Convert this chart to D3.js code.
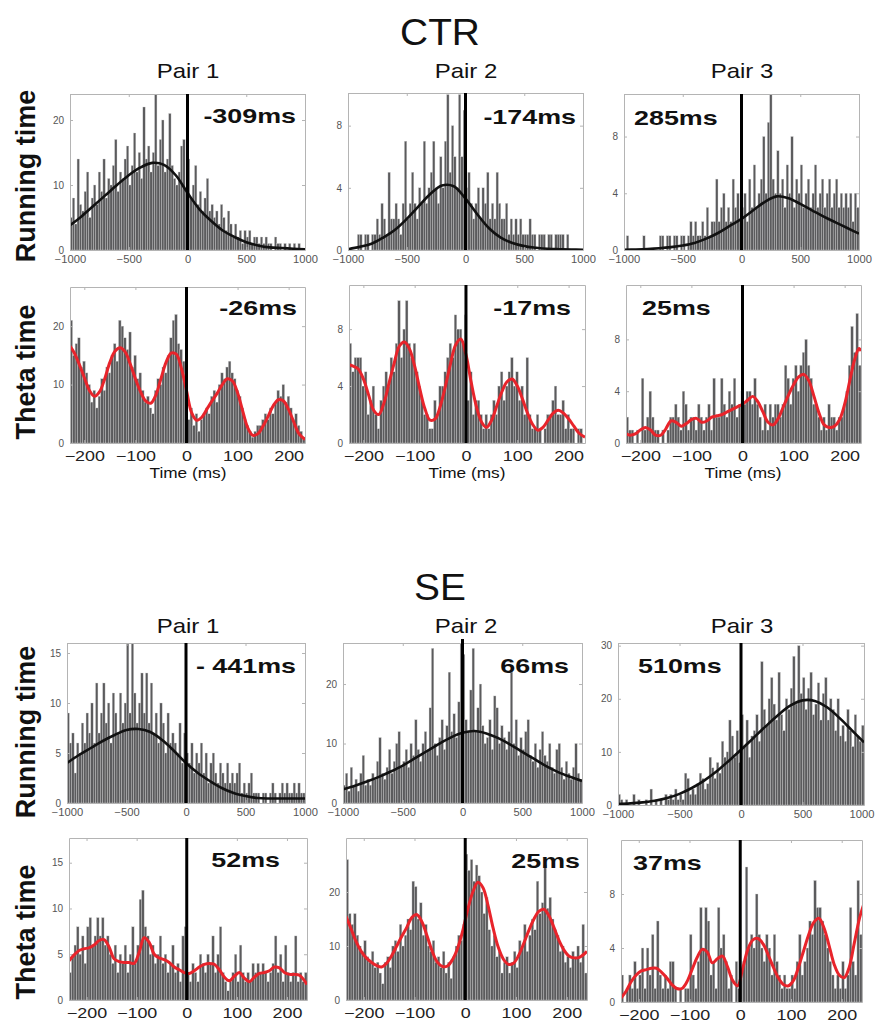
<html>
  <meta charset="utf-8">
  <head>
  <style>
    body {
      margin: 0;
      background: #fff;
    }
    svg text {
      font-family: Arial, "Liberation Sans", Helvetica, sans-serif;
    }
  </style>
  </head>
  <body>
    <div id="fig"></div>

    <script src="https://cdnjs.cloudflare.com/ajax/libs/d3/7.8.5/d3.min.js"></script>
    <script>

    'use strict';

    // ---- data -------------------------------------------------------------
    var groups = ['CTR', 'SE'];
    var pairs = ['Pair 1', 'Pair 2', 'Pair 3'];
    var rows = ['Running time', 'Theta time'];
    var lagLabels = [['-309ms', '-174ms', '285ms'], ['-26ms', '-17ms', '25ms'],
                     ['- 441ms', '66ms', '510ms'], ['52ms', '25ms', '37ms']];

    var runTicks = [-1000, -500, 0, 500, 1000];
    var thetaTicks = [-200, -100, 0, 100, 200];
    var RUN_START = -1000, RUN_BIN = 20;      // running-time histograms, 20 ms bins
    var CTR_TH_START = -228, SE_TH_START = -235, TH_BIN = 5;  // theta-time histograms, 5 ms bins

    // CTR running time (counts per bin)
    var ctrRun1 = [5,8,4,14,7, 6,9,12,5,8, 10,7,12,9,14, 8,11,10,13,17, 9,12,11,14,16,
                   10,13,18,12,15, 11,22,14,16,12, 15,24,13,17,20, 12,14,21,13,11, 10,12,16,17,9,
                   14,8,10,13,7, 9,6,8,11,6, 7,5,6,4,7, 5,3,6,4,2, 4,2,3,1,3,
                   2,3,1,2,2, 1,2,1,2,1, 1,0,2,1,1, 0,1,0,1,0, 1,0,1,0,0];
    var ctrRun2 = [0,0,0,0,1, 1,0,1,1,0, 1,1,2,1,3, 2,1,5,2,2, 3,2,1,3,7,
                   2,3,5,3,2, 4,3,7,3,4, 5,7,4,3,6, 4,7,10,5,8, 6,4,10,6,9,
                   4,5,3,2,3, 4,2,4,3,5, 2,3,2,5,3, 2,2,3,1,2, 1,2,1,2,1,
                   1,1,2,1,1, 0,1,1,1,0, 1,1,0,1,1, 1,1,0,1,0, 0,0,0,0,0];
    var ctrRun3 = [0,1,0,0,0, 0,0,0,1,0, 0,0,0,0,0, 1,1,0,1,1, 0,1,1,0,1,
                   1,0,1,2,1, 2,1,1,2,1, 3,1,2,2,5, 2,3,4,2,3, 2,5,3,4,2,
                   3,4,2,5,3, 6,3,4,5,8, 4,9,11,5,4, 7,4,5,3,6, 4,8,3,5,4,
                   6,3,4,5,3, 4,6,3,4,5, 3,4,5,3,4, 5,3,4,3,4, 3,4,2,4,3];

    // CTR theta time
    var ctrTheta1 = [21,15,17,18,13,14,12,10,7,9, 6,8,11,9,13,12,15,17,14,21,
                     20,18,16,19,13,15,11,12,9,7, 8,6,5,9,11,10,13,12,15,18,
                     21,22,17,16,14,12,4,6,3,5, 2,4,5,6,5,8,9,7,10,12,
                     11,13,14,12,11,9,8,6,4,3, 2,1,2,3,3,4,5,4,6,5,
                     7,9,8,10,7,8,6,4,5,3, 2,1];
    var ctrTheta2 = [7,5,6,6,6,4,5,2,3,4, 2,1,3,4,5,4,6,5,7,10,
                     6,8,10,7,6,7,5,4,3,2, 2,1,1,3,2,4,4,5,6,7,
                     6,9,8,8,7,9,3,5,2,3, 3,2,1,2,1,2,3,2,4,5,
                     3,4,5,6,4,5,3,4,2,6, 2,1,1,2,1,0,1,2,2,3,
                     4,2,2,3,1,2,1,1,0,1, 1,0];
    var ctrTheta3 = [2,1,1,0,1,0,5,1,2,4, 2,1,1,0,1,0,1,2,2,3,
                     2,1,4,3,1,2,2,1,3,2, 1,2,3,1,5,2,2,5,3,2,
                     4,3,5,2,3,4,3,4,4,3, 5,3,2,1,3,1,3,2,3,3,
                     2,3,6,5,3,5,6,4,6,7, 8,6,5,3,3,2,1,2,1,3,
                     2,2,1,2,2,3,4,6,9,7, 10,6];

    // SE running time
    var seRun1 = [9,6,7,3,6, 5,8,6,9,7, 10,6,12,7,9, 12,8,10,6,11, 9,7,11,8,10,
                  16,9,16,11,8, 10,13,9,13,8, 12,7,9,6,10, 8,5,9,6,7, 6,5,8,4,7,
                  5,4,6,3,5, 4,6,3,5,2, 4,5,3,2,4, 3,2,4,2,3, 2,3,4,1,2,
                  1,2,3,1,1, 1,0,1,1,0, 1,2,1,0,1, 2,1,2,1,1, 2,1,2,1,1];
    var seRun2 = [3,5,2,6,3, 4,2,5,8,3, 4,3,5,4,7, 11,5,4,6,9, 5,7,10,12,6,
                  7,9,6,10,8, 14,9,7,10,12, 9,16,26,10,8, 11,14,9,13,22, 12,15,11,17,27,
                  25,14,12,19,26, 12,16,20,13,10, 11,14,9,18,16, 10,13,11,9,12, 22,10,14,8,11,
                  9,12,14,8,7, 10,6,9,12,8, 7,10,6,5,9, 10,6,4,7,5, 4,6,10,5,4];
    var seRun3 = [2,1,0,1,0, 0,2,0,1,0, 0,1,0,3,0, 1,0,1,0,2, 1,2,1,3,1,
                  2,1,6,5,2, 3,2,4,6,5, 3,4,9,7,5, 8,6,12,9,10, 16,13,9,14,8,
                  17,11,16,9,13, 14,17,12,27,18, 15,20,24,19,16, 25,17,14,20,18, 22,28,19,30,21,
                  24,18,22,25,17, 19,23,16,21,24, 16,20,18,14,20, 13,15,12,18,14, 11,17,13,12,15];

    // SE theta time
    var seTheta1 = [3,5,6,8,5,7,4,8,9,6, 7,9,7,9,6,7,5,4,6,3,
                    5,4,6,3,5,8,4,6,11,12, 8,7,5,6,4,5,7,4,5,3,
                    4,6,3,4,2,7,8,3,2,4, 3,2,5,4,3,5,4,7,3,5,
                    8,3,2,1,2,3,5,2,6,3, 2,3,2,4,3,4,3,4,3,2,
                    3,4,7,3,5,2,6,3,2,3, 7,2,3,2,3];
    var seTheta2 = [26,16,14,16,12,10,9,11,8,7, 9,6,7,5,3,7,8,6,10,11,
                    9,14,10,12,15,13,22,21,15,18, 12,14,10,9,11,7,8,6,9,5,
                    7,4,8,10,12,11,14,27,24,26, 22,25,23,20,16,19,13,10,12,8,
                    9,5,7,8,5,7,9,6,11,10, 14,9,12,15,13,22,16,18,25,17,
                    19,15,13,12,9,10,7,8,6,9, 8,10,7,14,5];
    var seTheta3 = [2,0,1,2,1,3,1,2,4,1, 4,2,5,1,6,2,1,2,1,3,
                    3,1,0,1,0,1,1,5,2,1, 3,7,4,7,6,2,3,1,7,4,
                    5,3,1,2,0,3,1,2,3,10, 4,5,4,8,5,4,3,5,4,2,
                    5,3,2,1,2,1,1,2,1,3, 5,2,3,4,6,5,9,7,7,6,
                    5,4,3,2,1,2,1,3,1,2, 7,3,2,9,5];

    // smoothed fits, [time, value]
    var ctrRun1Fit = [[-1000,3.8],[-900,5.2],[-800,6.8],[-700,8.4],[-600,10],[-500,11.5],[-400,12.7],
                      [-300,13.4],[-200,13.1],[-100,11.5],[0,8.8],[100,6.3],[200,4.5],[300,3.0],
                      [400,2.0],[500,1.2],[600,0.7],[700,0.4],[800,0.3],[900,0.2],[1000,0.1]];
    var ctrRun2Fit = [[-1000,0.05],[-900,0.2],[-800,0.4],[-700,0.8],[-600,1.3],[-500,2.0],[-400,2.8],
                      [-300,3.6],[-200,4.15],[-100,4.1],[0,3.3],[100,2.3],[200,1.4],[300,0.8],
                      [400,0.45],[500,0.25],[600,0.15],[700,0.08],[800,0.05],[900,0.03],[1000,0.02]];
    var ctrRun3Fit = [[-1000,0.02],[-900,0.04],[-800,0.07],[-700,0.12],[-600,0.2],[-500,0.32],[-400,0.5],
                      [-300,0.8],[-200,1.2],[-100,1.7],[0,2.2],[100,2.8],[200,3.4],[300,3.78],
                      [400,3.65],[500,3.25],[600,2.8],[700,2.35],[800,1.95],[900,1.55],[1000,1.15]];
    var seRun1Fit = [[-1000,4.0],[-900,4.8],[-800,5.5],[-700,6.2],[-600,6.8],[-500,7.3],[-400,7.4],
                     [-300,7.1],[-200,6.3],[-100,5.2],[0,4.0],[100,3.0],[200,2.2],[300,1.5],
                     [400,1.0],[500,0.7],[600,0.5],[700,0.45],[800,0.45],[900,0.45],[1000,0.45]];
    var seRun2Fit = [[-1000,2.3],[-900,2.9],[-800,3.6],[-700,4.4],[-600,5.3],[-500,6.3],[-400,7.5],
                     [-300,8.7],[-200,9.9],[-100,11.0],[0,11.8],[100,12.1],[200,11.7],[300,10.9],
                     [400,9.8],[500,8.6],[600,7.4],[700,6.2],[800,5.2],[900,4.4],[1000,3.7]];
    var seRun3Fit = [[-1000,0.2],[-900,0.3],[-800,0.5],[-700,0.8],[-600,1.3],[-500,2.1],[-400,3.2],
                     [-300,4.6],[-200,6.3],[-100,8.3],[0,10.4],[100,12.6],[200,14.8],[300,16.9],
                     [400,18.7],[500,19.7],[600,19.6],[700,18.4],[800,16.4],[900,14.1],[1000,11.8]];

    var ctrTheta1Fit = [[-228,16.6],[-220,15.5],[-210,13.5],[-200,11.2],[-190,9.0],[-180,8.0],[-170,8.8],
                        [-160,11.0],[-150,13.8],[-140,15.7],[-130,16.3],[-120,15.6],[-110,13.5],[-100,11.0],
                        [-90,8.8],[-80,7.2],[-70,6.8],[-60,8.2],[-50,11.0],[-40,13.8],[-30,15.4],[-20,15.2],
                        [-10,12.8],[0,9.0],[10,5.2],[20,3.9],[30,4.4],[40,5.8],[50,7.2],[60,8.5],[70,10.0],
                        [80,11.0],[90,10.6],[100,8.6],[110,5.5],[120,2.6],[130,1.3],[140,1.6],[150,2.9],
                        [160,4.6],[170,6.4],[180,7.4],[190,7.2],[200,5.7],[210,3.6],[220,1.6],[232,0.6]];
    var ctrTheta2Fit = [[-228,5.5],[-220,5.4],[-210,5.2],[-200,4.5],[-190,3.4],[-180,2.3],[-170,2.0],
                        [-160,2.8],[-150,4.2],[-140,5.6],[-130,6.8],[-120,7.1],[-110,6.6],[-100,5.4],
                        [-90,3.8],[-80,2.4],[-70,1.6],[-60,1.7],[-50,2.6],[-40,4.0],[-30,5.6],[-20,6.9],
                        [-10,7.3],[0,6.2],[10,4.3],[20,2.6],[30,1.5],[40,1.1],[50,1.6],[60,2.6],[70,3.6],
                        [80,4.3],[90,4.5],[100,4.0],[110,3.1],[120,2.1],[130,1.3],[140,0.9],[150,1.1],
                        [160,1.6],[170,2.1],[180,2.3],[190,2.1],[200,1.7],[210,1.2],[220,0.7],[232,0.4]];
    var ctrTheta3Fit = [[-228,0.7],[-220,0.6],[-210,0.7],[-200,1.0],[-190,1.2],[-180,1.0],[-170,0.6],
                        [-160,0.6],[-150,1.1],[-140,1.7],[-130,1.6],[-120,1.3],[-110,1.5],[-100,1.8],
                        [-90,1.9],[-80,1.6],[-70,1.7],[-60,2.0],[-50,2.1],[-40,2.2],[-30,2.4],[-20,2.6],
                        [-10,2.8],[0,3.0],[10,3.3],[20,3.6],[30,3.2],[40,2.4],[50,1.6],[60,1.4],[70,1.9],
                        [80,2.8],[90,3.7],[100,4.5],[110,5.1],[120,5.3],[130,4.8],[140,3.6],[150,2.3],
                        [160,1.4],[170,1.2],[180,1.3],[190,1.8],[200,3.0],[210,4.8],[220,6.5],[228,7.3],[232,7.1]];
    var seTheta1Fit = [[-235,4.3],[-225,4.9],[-215,5.4],[-205,5.6],[-195,5.7],[-185,6.0],[-175,6.5],
                       [-165,6.6],[-155,5.8],[-145,4.5],[-135,4.2],[-125,4.1],[-115,4.1],[-105,4.0],
                       [-95,5.2],[-85,6.8],[-75,6.3],[-65,5.0],[-55,4.6],[-45,4.4],[-35,4.1],[-25,3.6],
                       [-15,3.3],[-5,3.0],[5,2.9],[15,3.2],[25,3.6],[35,3.9],[45,4.0],[55,3.9],[65,3.3],
                       [75,2.5],[85,2.1],[95,2.6],[105,3.0],[115,2.4],[125,2.0],[135,2.5],[145,2.9],
                       [155,3.0],[165,3.2],[175,3.6],[185,3.5],[195,3.0],[205,2.8],[215,2.8],[225,2.7],[240,1.7]];
    var seTheta2Fit = [[-235,15.5],[-225,13.2],[-215,10.8],[-205,9.0],[-195,7.8],[-185,7.0],[-175,6.4],
                       [-165,6.1],[-155,6.8],[-145,8.2],[-135,10.0],[-125,11.8],[-115,13.5],[-105,15.3],
                       [-95,15.8],[-85,14.4],[-75,11.8],[-65,9.0],[-55,7.0],[-45,6.2],[-35,6.3],[-25,7.5],
                       [-15,9.6],[-5,12.8],[5,16.8],[15,20.0],[25,21.8],[35,20.8],[45,17.5],[55,13.3],
                       [65,9.8],[75,7.6],[85,6.6],[95,6.8],[105,8.2],[115,10.4],[125,12.8],[135,14.9],
                       [145,16.4],[155,16.8],[165,15.6],[175,13.4],[185,11.0],[195,9.2],[205,8.1],
                       [215,7.8],[225,7.9],[240,9.0]];
    var seTheta3Fit = [[-235,0.3],[-225,0.8],[-215,1.5],[-205,2.0],[-195,2.3],[-185,2.4],[-175,2.5],
                       [-165,2.5],[-155,2.2],[-145,1.8],[-135,1.3],[-125,1.0],[-115,1.0],[-105,1.5],
                       [-95,2.4],[-85,3.3],[-75,3.9],[-65,3.7],[-55,2.9],[-45,3.2],[-35,3.4],[-25,2.6],
                       [-15,1.6],[-5,1.2],[5,2.5],[15,3.9],[25,4.6],[35,4.7],[45,4.3],[55,3.5],[65,2.6],
                       [75,1.8],[85,1.3],[95,1.2],[105,1.6],[115,2.6],[125,3.8],[135,5.0],[145,5.9],
                       [155,6.2],[165,5.5],[175,4.2],[185,2.8],[195,2.0],[205,1.8],[215,2.6],[225,4.4],
                       [235,6.2],[243,7.2]];

    // ---- layout ------------------------------------------------------------
    var W = 875, H = 1024;
    var TXT_SX = 1.28;   // the source figure is stretched horizontally
    var BAR_FILL = '#5b5b5d';
    var FRAME = '#b4b4b4';
    var RED = '#e8242b';

    var svg = d3.select('#fig').append('svg')
        .attr('width', W)
        .attr('height', H);

    function label(x, y, str, size, weight, anchor, sx) {
      return svg.append('text')
        .attr('transform', 'translate(' + x + ',' + y + ') scale(' + (sx || TXT_SX) + ',1)')
        .attr('text-anchor', anchor || 'middle')
        .attr('font-size', size)
        .attr('font-weight', weight || 'normal')
        .attr('fill', '#111')
        .text(str);
    }

    function rowLabel(x, y, str) {
      return svg.append('text')
        .attr('transform', 'translate(' + x + ',' + y + ') rotate(-90)')
        .attr('text-anchor', 'middle')
        .attr('font-size', 27)
        .attr('font-weight', 'bold')
        .attr('fill', '#111')
        .text(str);
    }

    var clipId = 0;
    function panel(p) {
      var x = d3.scaleLinear().domain(p.xd).range([p.box[0], p.box[1]]);
      var y = d3.scaleLinear().domain([0, p.ymax]).range([p.box[3], p.box[2]]);
      var g = svg.append('g');
      var id = 'clip' + (clipId++);

      g.append('clipPath').attr('id', id)
        .append('rect')
          .attr('x', p.box[0]).attr('y', p.box[2])
          .attr('width', p.box[1] - p.box[0]).attr('height', p.box[3] - p.box[2]);

      var inner = g.append('g').attr('clip-path', 'url(#' + id + ')');

      inner.selectAll('rect.bar')
        .data(p.bins)
        .enter().append('rect')
          .attr('class', 'bar')
          .attr('x', function(d, i) { return x(p.start + i * p.bw); })
          .attr('width', x(p.start + p.bw) - x(p.start))
          .attr('y', function(d) { return y(Math.min(d, p.ymax)); })
          .attr('height', function(d) { return y(0) - y(Math.min(d, p.ymax)); })
          .attr('fill', BAR_FILL)
          .attr('stroke', '#d0d0d0')
          .attr('stroke-width', 0.35);

      // axes, MATLAB style box with inward ticks
      var bx = d3.axisBottom(x).tickValues(p.xt).tickFormat(d3.format('d'))
        .tickSizeInner(-3).tickSizeOuter(0).tickPadding(p.run ? 6 : 8);
      var tx = d3.axisTop(x).tickValues(p.xt).tickSizeInner(-3).tickSizeOuter(0).tickFormat('');
      var ly = d3.axisLeft(y).tickValues(p.yt).tickFormat(d3.format('d'))
        .tickSizeInner(-3).tickSizeOuter(0).tickPadding(6);
      var ry = d3.axisRight(y).tickValues(p.yt).tickSizeInner(-3).tickSizeOuter(0).tickFormat('');

      var gb = g.append('g').attr('transform', 'translate(0,' + p.box[3] + ')').call(bx);
      g.append('g').attr('transform', 'translate(0,' + p.box[2] + ')').call(tx);
      var gl = g.append('g').attr('transform', 'translate(' + p.box[0] + ',0)').call(ly);
      g.append('g').attr('transform', 'translate(' + p.box[1] + ',0)').call(ry);

      g.selectAll('.domain, .tick line').attr('stroke', FRAME);
      gb.selectAll('.tick text')
        .attr('font-size', p.run ? 10 : 14)
        .attr('fill', p.run ? '#555' : '#222')
        .attr('font-family', 'Arial, "Liberation Sans", sans-serif')
        .attr('transform', 'scale(' + (p.run ? 1.12 : TXT_SX) + ',1)')
        .attr('text-anchor', function(d) {
          // keep the right-most label inside the page
          return x(d) + 14 > W ? 'end' : 'middle';
        })
        .attr('x', function(d) { return x(d) + 14 > W ? (W - 1 - x(d)) / 1.12 : 0; });
      gl.selectAll('text')
        .attr('font-size', p.yfs || 10)
        .attr('fill', '#555')
        .attr('font-family', 'Arial, "Liberation Sans", sans-serif');

      // fitted curve
      var line = d3.line()
        .x(function(d) { return x(d[0]); })
        .y(function(d) { return y(d[1]); })
        .curve(d3.curveCatmullRom);
      inner.append('path')
        .datum(p.fit)
        .attr('d', line)
        .attr('fill', 'none')
        .attr('stroke', p.run ? '#111' : RED)
        .attr('stroke-width', p.run ? 2.6 : 3);

      // zero-lag marker
      g.append('line')
        .attr('x1', x(0)).attr('x2', x(0))
        .attr('y1', y(0)).attr('y2', p.box[2] - (p.over || 0))
        .attr('stroke', '#000')
        .attr('stroke-width', 3);

      // lag annotation
      label(p.lab[0], p.lab[1], p.text, 21, 'bold', p.lab[2]);
    }

    var panels = [
      // CTR running
      {run: true, bins: ctrRun1, fit: ctrRun1Fit, xd: [-1000, 1000], start: RUN_START, bw: RUN_BIN, xt: runTicks,
       ymax: 24, yt: [0, 10, 20], box: [70, 305, 94, 250], text: lagLabels[0][0], lab: [296, 123, 'end']},
      {run: true, bins: ctrRun2, fit: ctrRun2Fit, xd: [-1000, 1000], start: RUN_START, bw: RUN_BIN, xt: runTicks,
       ymax: 10.1, yt: [0, 4, 8], box: [348, 583, 93, 250], text: lagLabels[0][1], lab: [576, 124, 'end']},
      {run: true, bins: ctrRun3, fit: ctrRun3Fit, xd: [-1000, 1000], start: RUN_START, bw: RUN_BIN, xt: runTicks,
       ymax: 11, yt: [0, 4, 8], box: [624, 859, 94, 250], text: lagLabels[0][2], lab: [634, 125, 'start']},
      // CTR theta
      {run: false, bins: ctrTheta1, fit: ctrTheta1Fit, xd: [-228, 232], start: CTR_TH_START, bw: TH_BIN, xt: thetaTicks,
       ymax: 26.7, yt: [0, 10, 20], box: [70, 305, 287, 443], text: lagLabels[1][0], lab: [297, 315, 'end']},
      {run: false, bins: ctrTheta2, fit: ctrTheta2Fit, xd: [-228, 232], start: CTR_TH_START, bw: TH_BIN, xt: thetaTicks,
       ymax: 11.1, yt: [0, 4, 8], box: [349, 585, 285, 443], text: lagLabels[1][1], lab: [571, 315, 'end']},
      {run: false, bins: ctrTheta3, fit: ctrTheta3Fit, xd: [-228, 232], start: CTR_TH_START, bw: TH_BIN, xt: thetaTicks,
       ymax: 12.2, yt: [0, 4, 8], box: [626, 861, 285, 443], text: lagLabels[1][2], lab: [642, 315, 'start']},
      // SE running
      {run: true, bins: seRun1, fit: seRun1Fit, xd: [-1000, 1000], start: RUN_START, bw: RUN_BIN, xt: runTicks,
       ymax: 16, yt: [0, 5, 10, 15], box: [67, 305, 643, 803], text: lagLabels[2][0], lab: [296, 673, 'end']},
      {run: true, bins: seRun2, fit: seRun2Fit, xd: [-1000, 1000], start: RUN_START, bw: RUN_BIN, xt: runTicks,
       ymax: 26.9, yt: [0, 10, 20], box: [343, 582, 643, 803], text: lagLabels[2][1], lab: [569, 673, 'end'], over: 4},
      {run: true, bins: seRun3, fit: seRun3Fit, xd: [-1000, 1000], start: RUN_START, bw: RUN_BIN, xt: runTicks,
       ymax: 30.5, yt: [0, 10, 20, 30], box: [618, 864, 643, 805], text: lagLabels[2][2], lab: [638, 673, 'start']},
      // SE theta
      {run: false, bins: seTheta1, fit: seTheta1Fit, xd: [-235, 240], start: SE_TH_START, bw: TH_BIN, xt: thetaTicks,
       ymax: 17.7, yt: [0, 5, 10, 15], box: [69, 307, 838, 1000], text: lagLabels[3][0], lab: [280, 867, 'end']},
      {run: false, bins: seTheta2, fit: seTheta2Fit, xd: [-235, 240], start: SE_TH_START, bw: TH_BIN, xt: thetaTicks,
       ymax: 30, yt: [0, 10, 20], box: [346, 587, 838, 1000], text: lagLabels[3][1], lab: [580, 868, 'end']},
      {run: false, bins: seTheta3, fit: seTheta3Fit, xd: [-235, 240], start: SE_TH_START, bw: TH_BIN, xt: thetaTicks,
       ymax: 12, yt: [0, 4, 8], box: [621, 862, 840, 1002], text: lagLabels[3][2], lab: [633, 870, 'start']}
    ];

    panels.forEach(panel);

    // group titles, pair titles, row titles
    label(440, 45, groups[0], 37, 'normal', 'middle', 1.05);
    label(440, 600, groups[1], 37, 'normal', 'middle', 1.05);
    [188, 466, 742].forEach(function(cx, i) {
      label(cx, 78, pairs[i], 20, 'normal', 'middle', 1.2);
      label(cx, 633, pairs[i], 20, 'normal', 'middle', 1.2);
    });
    rowLabel(35, 176, rows[0]);
    rowLabel(35, 372, rows[1]);
    rowLabel(35, 732, rows[0]);
    rowLabel(35, 932, rows[1]);

    [188, 467, 743].forEach(function(cx) {
      label(cx, 478, 'Time (ms)', 15, 'normal', 'middle', 1.15);
    });

    </script>
  </body>
</html>
